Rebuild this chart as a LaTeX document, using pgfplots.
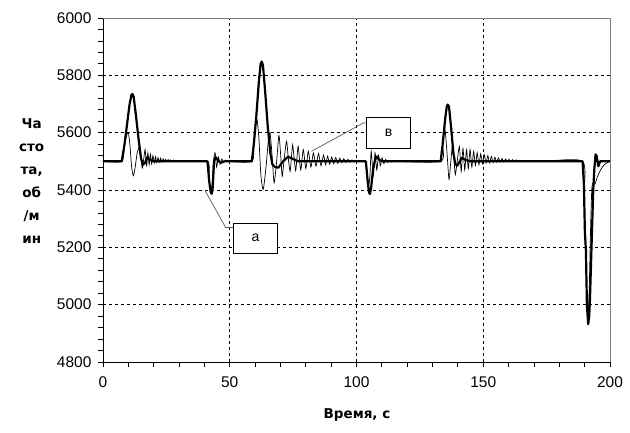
\documentclass[border=0pt]{standalone}
\usepackage{fontspec}
\setmainfont{Liberation Sans}
\newfontfamily\lblfont{DejaVu Sans}
\usepackage{pgfplots}
\pgfplotsset{compat=1.18}
\begin{document}
\begin{tikzpicture}[x=1pt,y=1pt]
\path[use as bounding box] (-103,-71) rectangle (527,362);
\begin{axis}[
  scale only axis, width=507pt, height=344pt,
  xmin=0, xmax=200, ymin=4800, ymax=6000,
  xtick={0,50,100,150,200}, ytick={4800,5000,5200,5400,5600,5800,6000},
  minor x tick num=4, minor y tick num=4,
  axis x line*=bottom, axis y line*=left,
  tick align=outside,
  major tick length=5pt, minor tick length=5pt,
  tick style={black, line width=0.8pt},
  axis line style={black, line width=0.9pt},
  grid=major,
  major grid style={black, dashed, dash pattern=on 3pt off 3pt, line width=0.8pt},
  ticklabel style={font=\fontsize{15.5}{18}\selectfont},
  yticklabel style={xshift=-3pt},
  xticklabel style={yshift=-6pt},
  /pgf/number format/assume math mode=true,
  /pgf/number format/1000 sep={},
  clip=false,
]
\draw[gray, line width=0.9pt] (rel axis cs:0,1) -- (rel axis cs:1,1) -- (rel axis cs:1,0);
% thin series
\addplot[black, line width=0.7pt, smooth, tension=0.4] coordinates {
(0,5500) (7.4,5500) (8.5,5560) (9.5,5595) (10,5600) (10.6,5560) (11.3,5480) (12,5450)
(12.7,5480) (13.5,5530) (14.6,5552) (15.1,5500) (15.5,5477) (16.1,5510) (16.6,5541)
(17.2,5485) (17.7,5530) (18.2,5488) (18.7,5525) (19.2,5491) (19.7,5520) (20.2,5494)
(20.7,5516) (21.2,5496) (21.7,5513) (22.2,5497) (22.7,5511) (23.2,5498) (23.7,5509)
(24.2,5499) (24.7,5507) (25.2,5500) (25.7,5506) (26.2,5500) (26.7,5505) (27.2,5500)
(27.7,5504) (28.2,5500) (28.7,5503) (29.2,5500) (29.7,5502) (30.5,5500)
(41.2,5500) (41.8,5440) (42.5,5400) (43.0,5420) (43.6,5500) (44.2,5530) (44.8,5480)
(45.5,5515) (46.2,5490) (46.9,5508) (47.6,5497) (48.3,5503) (49,5500)
(58.7,5500) (59.5,5560) (60.3,5630) (60.8,5645) (61.5,5580) (62.3,5450) (63.2,5402)
(64.3,5480) (65.2,5570) (65.9,5600) (66.7,5520) (67.5,5425) (68.5,5500) (69.4,5590)
(70.1,5520) (70.7,5448) (71.5,5510) (72.4,5570) (73.1,5510) (73.8,5465) (74.3,5510)
(74.8,5558) (75.4,5510) (76,5468) (76.5,5510) (77,5552)
(78,5470) (79,5541) (80,5475) (81,5535) (82,5480) (83,5529) (84,5483) (85,5527)
(86,5485) (87,5522) (87.8,5488) (88.6,5518) (89.4,5490) (90.2,5515) (91,5492)
(91.8,5513) (92.6,5493) (93.4,5511) (94.2,5495) (95,5509) (95.8,5496) (96.6,5507)
(97.4,5497) (98.2,5505) (99,5498) (99.8,5503) (100.6,5499) (101.4,5502) (102.5,5500)
(103.7,5500) (104.3,5450) (104.8,5415) (105.3,5450) (105.8,5535) (106.6,5450)
(107.3,5530) (108,5470) (108.7,5520) (109.4,5485) (110.1,5512) (110.8,5492)
(111.5,5507) (112.2,5496) (113,5503) (113.8,5498) (114.6,5501) (115.5,5500)
(133.2,5500) (134,5560) (134.9,5610) (135.7,5530) (136.5,5437) (137.2,5500)
(137.9,5558) (138.5,5500) (139,5454) (139.8,5505) (140.6,5552) (141.3,5465)
(142,5545) (142.7,5470) (143.4,5540) (144.1,5475) (144.8,5541) (145.5,5480)
(146.2,5535) (146.9,5485) (147.6,5530) (148.3,5488) (149,5526) (149.7,5492)
(150.4,5523) (151.1,5494) (151.8,5520) (152.5,5495) (153.2,5517) (153.9,5496)
(154.6,5514) (155.3,5497) (156,5512) (156.7,5498) (157.4,5510) (158.1,5498)
(158.8,5508) (159.5,5499) (160.2,5507) (160.9,5499) (161.6,5506) (162.3,5499)
(163,5505) (163.7,5500) (164.4,5504) (165.1,5500) (165.8,5504) (166.5,5500)
(167.2,5503) (167.9,5500) (168.6,5503) (169.3,5500) (170,5502) (170.7,5500)
(171.4,5502) (172.1,5500) (172.8,5501) (174,5500)
(189.2,5500) (189.8,5380) (190.3,5200) (190.8,5020) (191.3,4960) (191.8,5050)
(192.3,5250) (192.8,5400) (193.3,5425) (194,5420) (195,5445) (196,5465) (197,5480)
(198,5490) (199.3,5497) (200,5500)
};
% thick series
\addplot[black, line width=2.2pt, line join=round] coordinates {
(0,5500) (7.4,5500) (8.5,5560) (9.5,5630) (10.5,5700) (11.2,5730) (11.6,5735)
(12.1,5725) (13,5660) (14,5580) (15,5510) (15.8,5488) (16.6,5495) (17.5,5515)
(18.5,5505) (20,5500)
(41.2,5500) (41.9,5430) (42.5,5392) (42.9,5387) (43.3,5410) (43.8,5500) (44.4,5515)
(45.2,5505) (46.4,5495) (48,5500)
(58.7,5500) (59.5,5560) (60.5,5660) (61.5,5780) (62.2,5840) (62.6,5848) (63.1,5835)
(64,5740) (65,5620) (66,5530) (66.8,5490) (67.8,5480) (69.2,5478) (71,5500)
(73,5516) (75,5508) (77,5500)
(103.7,5500) (104.3,5440) (104.9,5392) (105.3,5386) (105.8,5410) (106.5,5470)
(107.3,5505) (108.1,5517) (109,5505) (110.2,5500)
(133.2,5500) (134,5560) (135,5650) (135.6,5690) (136,5698) (136.5,5690)
(137.3,5620) (138.2,5530) (139,5490) (139.8,5485) (141.5,5512) (143,5505) (145,5500)
(189.2,5500) (189.7,5420) (190.1,5251) (190.5,5190) (190.9,4996) (191.4,4932)
(191.8,4960) (192.1,5019) (192.8,5228) (193.4,5402) (193.8,5471) (194.3,5524)
(194.7,5520) (195.4,5483) (196.1,5500) (200,5500)
};
% annotations
\draw[black!65, line width=0.7pt] (axis cs:40.2,5399) -- (axis cs:48.4,5269) -- (axis cs:51.7,5269);
\draw[black!65, line width=0.7pt] (axis cs:82.3,5535) -- (axis cs:102.7,5634) -- (axis cs:104,5634);
\end{axis}
\node[draw=black, line width=0.7pt, fill=white, minimum width=44pt, minimum height=30pt, inner sep=0pt, font=\fontsize{14}{16}\selectfont] at (152.5,124) {а};
\node[draw=black, line width=0.7pt, fill=white, minimum width=44pt, minimum height=31pt, inner sep=0pt, font=\fontsize{14}{16}\selectfont] at (285.5,229.2) {в};
\node[font=\lblfont\bfseries\fontsize{13.5}{23}\selectfont, align=center] at (-71.3,181) {Ча\\сто\\та,\\об\\/м\\ин};
\node[font=\lblfont\bfseries\fontsize{13.5}{15}\selectfont] at (254,-53) {Время, с};
\end{tikzpicture}
\end{document}
